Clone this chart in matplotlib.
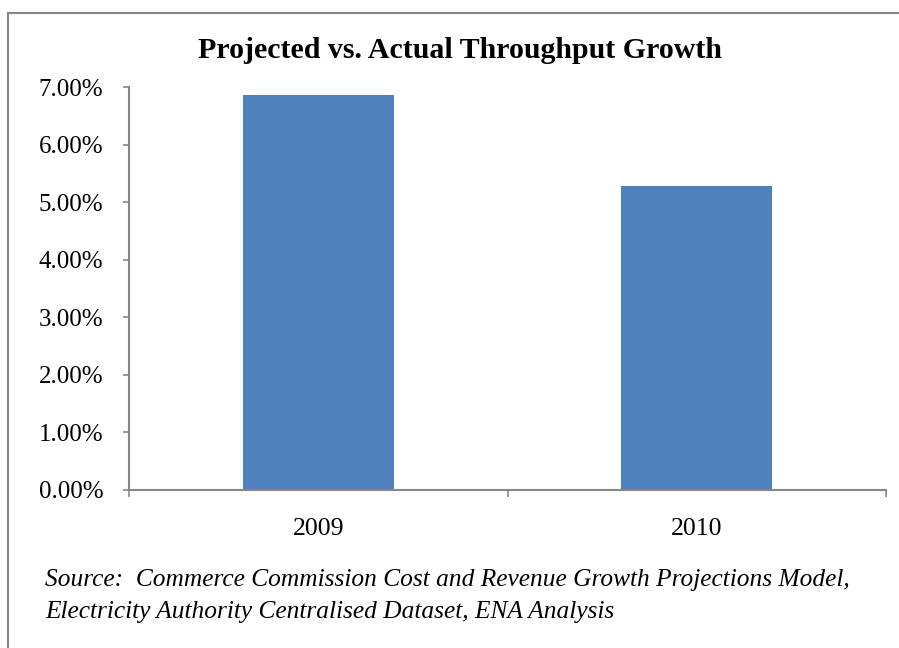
import matplotlib
matplotlib.use("Agg")
import matplotlib.pyplot as plt
from matplotlib.lines import Line2D
from matplotlib.ticker import FuncFormatter, MultipleLocator

categories = ["2009", "2010"]
values = [6.86, 5.28]  # percent
title = "Projected vs. Actual Throughput Growth"
source = ("Source:  Commerce Commission Cost and Revenue Growth Projections Model,\n"
          "Electricity Authority Centralised Dataset, ENA Analysis")

W, H = 899, 648
fig = plt.figure(figsize=(W / 100, H / 100), dpi=100)
plt.rcParams['font.family'] = ['Liberation Serif', 'DejaVu Serif']

border = "#878787"
fig.add_artist(Line2D([8 / W, 8 / W], [0, 1 - 13 / H], color=border, lw=1.5, transform=fig.transFigure))
fig.add_artist(Line2D([8 / W, 1], [1 - 13 / H, 1 - 13 / H], color=border, lw=1.5, transform=fig.transFigure))

ax = fig.add_axes([129 / W, 1 - 490 / H, (886 - 129) / W, (490 - 87) / H])
x = list(range(len(categories)))
ax.bar(x, values, width=0.4, color="#4F81BD", zorder=2)
ax.set_xlim(-0.5, len(categories) - 0.5)
ax.set_ylim(0, 7)
ax.yaxis.set_major_locator(MultipleLocator(1))
ax.yaxis.set_major_formatter(FuncFormatter(lambda v, p: f"{v:.2f}%"))
ax.set_xticks(x)
ax.set_xticklabels(categories)
ax.set_xticks([-0.5, 0.5, 1.5], minor=True)
ax.tick_params(axis='x', which='major', length=0, pad=20, labelsize=18.5)
ax.tick_params(axis='x', which='minor', length=5, width=1.2, color=border, direction='out')
ax.tick_params(axis='y', length=4.5, width=1.2, color=border, direction='out', labelsize=18, pad=14)
for s in ["top", "right"]:
    ax.spines[s].set_visible(False)
for s in ["left", "bottom"]:
    ax.spines[s].set_color(border)
    ax.spines[s].set_linewidth(1.5)

fig.text(460 / W, 1 - 50 / H, title, ha='center', va='center', fontsize=21.5, fontweight='bold')
fig.text(45 / W, 1 - 596 / H, source, ha='left', va='center', fontsize=18.3, style='italic',
         linespacing=1.58)

fig.savefig("out.png", dpi=100)
